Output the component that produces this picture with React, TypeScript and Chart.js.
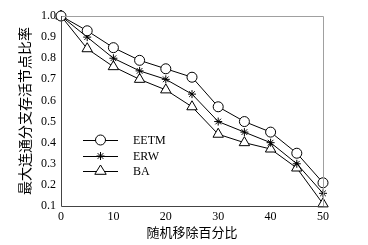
import React, { useEffect, useRef } from "react";
import { Chart, registerables } from "chart.js";

Chart.register(...registerables);

const xValues = [0, 5, 10, 15, 20, 25, 30, 35, 40, 45, 50];
const eetm = [1.0, 0.93, 0.85, 0.79, 0.75, 0.71, 0.57, 0.5, 0.45, 0.35, 0.21];
const erw = [1.0, 0.9, 0.8, 0.74, 0.7, 0.63, 0.5, 0.45, 0.4, 0.3, 0.16];
const ba = [1.0, 0.845, 0.76, 0.7, 0.65, 0.57, 0.44, 0.4, 0.37, 0.28, 0.11];
const seriesNames = ["EETM", "ERW", "BA"];
const pointStyles = ["circle", "star", "triangle"];
const xTitle = "随机移除百分比";
const yTitle = "最大连通分支存活节点比率";

const serif = "'Liberation Serif', 'DejaVu Serif', serif";
const cjk = "'Noto Sans CJK SC', sans-serif";

const frame = {
  id: "frame",
  afterDraw(chart: any) {
    const { ctx, chartArea: a } = chart;
    ctx.save();
    ctx.lineWidth = 1;
    ctx.strokeStyle = "#a0a0a0";
    ctx.beginPath();
    ctx.moveTo(a.left, a.top + 0.5);
    ctx.lineTo(a.right + 0.5, a.top + 0.5);
    ctx.lineTo(a.right + 0.5, a.bottom);
    ctx.stroke();
    ctx.strokeStyle = "#444";
    ctx.beginPath();
    ctx.moveTo(a.left + 0.5, a.top);
    ctx.lineTo(a.left + 0.5, a.bottom + 0.5);
    ctx.lineTo(a.right + 0.5, a.bottom + 0.5);
    ctx.stroke();
    ctx.restore();
  },
};

function drawPoint(ctx: any, style: string, r: number, x: number, y: number) {
  ctx.save();
  ctx.strokeStyle = "#000";
  ctx.fillStyle = "#fff";
  ctx.lineWidth = 1;
  ctx.beginPath();
  if (style === "circle") {
    ctx.arc(x, y, r, 0, Math.PI * 2);
    ctx.fill();
    ctx.stroke();
  } else if (style === "triangle") {
    ctx.moveTo(x - r * Math.sin(Math.PI / 3) * 1.1, y + r * 0.55);
    ctx.lineTo(x + r * Math.sin(Math.PI / 3) * 1.1, y + r * 0.55);
    ctx.lineTo(x, y - r);
    ctx.closePath();
    ctx.fill();
    ctx.stroke();
  } else {
    for (let k = 0; k < 4; k++) {
      const ang = (k * Math.PI) / 4;
      ctx.moveTo(x + Math.cos(ang) * r, y + Math.sin(ang) * r);
      ctx.lineTo(x - Math.cos(ang) * r, y - Math.sin(ang) * r);
    }
    ctx.stroke();
  }
  ctx.restore();
}

const customLegend = {
  id: "customLegend",
  afterDatasetsDraw(chart: any) {
    const { ctx } = chart;
    const x0 = 83;
    const x1 = 118;
    const rows = [140, 156, 171];
    ctx.save();
    chart.data.datasets.forEach((ds: any, i: number) => {
      const y = rows[i];
      ctx.strokeStyle = "#000";
      ctx.lineWidth = 1;
      ctx.beginPath();
      ctx.moveTo(x0, y + 0.5);
      ctx.lineTo(x1, y + 0.5);
      ctx.stroke();
      drawPoint(ctx, ds.pointStyle, ds.pointRadius, (x0 + x1) / 2, y);
      ctx.fillStyle = "#000";
      ctx.font = "12px " + serif;
      ctx.textBaseline = "middle";
      ctx.textAlign = "left";
      ctx.fillText(ds.label, 133, y + 1);
    });
    ctx.restore();
  },
};

export default function App() {
  const ref = useRef<HTMLCanvasElement>(null);
  useEffect(() => {
    if (!ref.current) return;
    const mk = (label: string, data: number[], style: string, r: number) => ({
      label,
      data: xValues.map((x, i) => ({ x, y: data[i] })),
      borderColor: "#000",
      backgroundColor: "#fff",
      borderWidth: 1,
      pointStyle: style,
      pointRadius: r,
      pointBorderColor: "#000",
      pointBackgroundColor: "#fff",
      pointBorderWidth: 1,
      tension: 0,
      clip: false as any,
    });
    const chart = new Chart(ref.current, {
      type: "line",
      data: {
        datasets: [
          mk(seriesNames[0], eetm, pointStyles[0], 5),
          mk(seriesNames[1], erw, pointStyles[1], 4),
          mk(seriesNames[2], ba, pointStyles[2], 6),
        ],
      },
      options: {
        animation: false,
        responsive: false,
        devicePixelRatio: 1,
        layout: { padding: { top: 16, right: 45, left: 0, bottom: 0 } },
        plugins: { legend: { display: false }, tooltip: { enabled: false } },
        scales: {
          x: {
            type: "linear",
            min: 0,
            max: 50,
            grid: { display: false, drawTicks: false },
            border: { display: false },
            ticks: {
              stepSize: 10,
              color: "#000",
              font: { family: serif, size: 12 },
              padding: 4,
              maxRotation: 0,
            },
            title: {
              display: true,
              text: xTitle,
              color: "#000",
              font: { family: cjk, size: 13 },
              padding: { top: 0, bottom: 5 },
            },
            afterFit(scale: any) {
              scale.height = 39;
            },
          },
          y: {
            min: 0.1,
            max: 1.0,
            grid: { display: false, drawTicks: false },
            border: { display: false },
            ticks: {
              stepSize: 0.1,
              color: "#000",
              font: { family: serif, size: 12 },
              padding: 5,
              callback: (v: any) => Number(v).toFixed(1),
            },
            title: {
              display: true,
              text: yTitle,
              color: "#000",
              font: { family: cjk, size: 14 },
              padding: { top: 16, bottom: 0 },
            },
            afterFit(scale: any) {
              scale.width = 61;
            },
          },
        },
      },
      plugins: [frame, customLegend],
    });
    return () => chart.destroy();
  }, []);
  return (
    <div style={{ position: "absolute", left: 0, top: 0, width: 368, height: 245, background: "#fff" }}>
      <canvas ref={ref} width={368} height={245} style={{ width: 368, height: 245 }} />
    </div>
  );
}
